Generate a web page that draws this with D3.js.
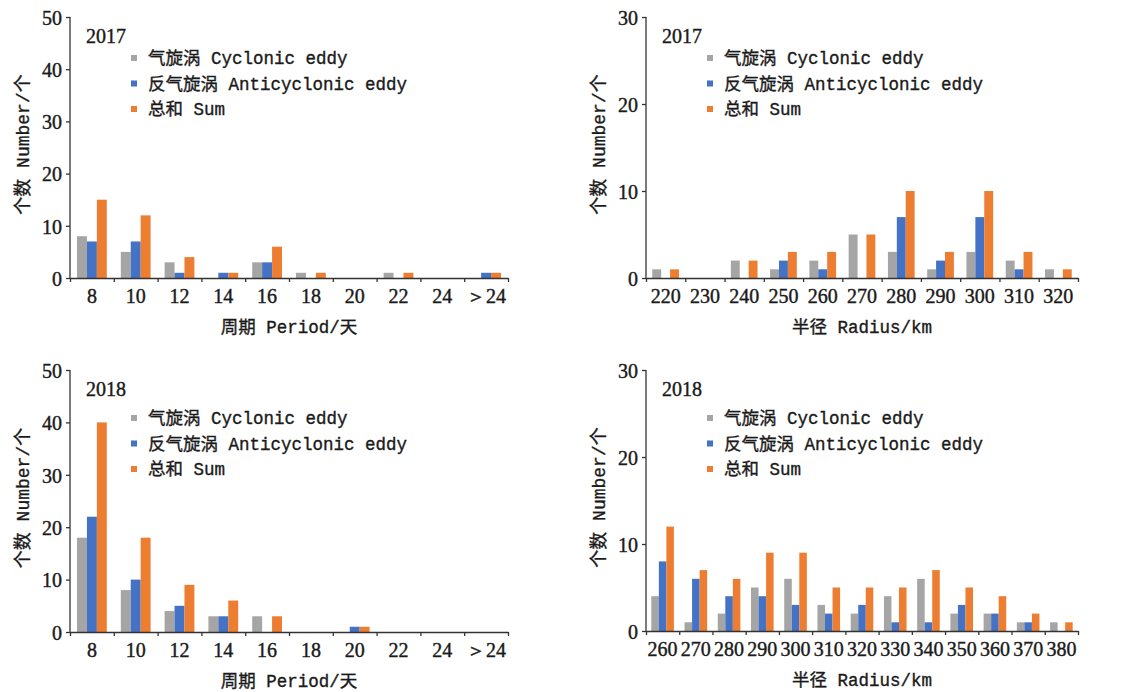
<!DOCTYPE html>
<html>
<head>
<meta charset="utf-8">
<script src="https://cdn.jsdelivr.net/npm/d3@7"></script>
<style>
  body { margin: 0; background: #fff; }
  .mono { font-family: "Liberation Mono", "Noto Sans CJK SC", monospace; fill: #1a1a1a; stroke: #1a1a1a; stroke-width: 0.35; }
  .num { font-family: "Liberation Serif", "Times New Roman", serif; fill: #1a1a1a; stroke: #1a1a1a; stroke-width: 0.4; }
  .axis path, .axis line { stroke: #333; stroke-width: 1.3; }
</style>
</head>
<body>
<svg id="chart" width="1126" height="692"></svg>
<script>
// ---- data ----
var periodCats = ['8', '10', '12', '14', '16', '18', '20', '22', '24', '＞24'];
var radius2017 = ['220', '230', '240', '250', '260', '270', '280', '290', '300', '310', '320'];
var radius2018 = ['260', '270', '280', '290', '300', '310', '320', '330', '340', '350', '360', '370', '380'];

var period2017Cyc  = [8, 5, 3, 0, 3, 1, 0, 1, 0, 0];
var period2017Anti = [7, 7, 1, 1, 3, 0, 0, 0, 0, 1];
var period2017Sum  = [15, 12, 4, 1, 6, 1, 0, 1, 0, 1];

var radius2017Cyc  = [1, 0, 2, 1, 2, 5, 3, 1, 3, 2, 1];
var radius2017Anti = [0, 0, 0, 2, 1, 0, 7, 2, 7, 1, 0];
var radius2017Sum  = [1, 0, 2, 3, 3, 5, 10, 3, 10, 3, 1];

var period2018Cyc  = [18, 8, 4, 3, 3, 0, 0, 0, 0, 0];
var period2018Anti = [22, 10, 5, 3, 0, 0, 1, 0, 0, 0];
var period2018Sum  = [40, 18, 9, 6, 3, 0, 1, 0, 0, 0];

var radius2018Cyc  = [4, 1, 2, 5, 6, 3, 2, 4, 6, 2, 2, 1, 1];
var radius2018Anti = [8, 6, 4, 4, 3, 2, 3, 1, 1, 3, 2, 1, 0];
var radius2018Sum  = [12, 7, 6, 9, 9, 5, 5, 5, 7, 5, 4, 2, 1];

var seriesNames = ['气旋涡 Cyclonic eddy', '反气旋涡 Anticyclonic eddy', '总和 Sum'];
var colours = ['#a5a5a5', '#4472c4', '#ed7d31'];

var svg = d3.select('#chart');

function panel(opt) {
    var g = svg.append('g');
    var cats = opt.cats;

    var x = d3.scaleBand().domain(cats).range([opt.x0, opt.x1]).padding(0);
    var xEdge = d3.scaleLinear().domain([0, cats.length]).range([opt.x0, opt.x1]);
    var pad = x.bandwidth() * 0.16;
    var xs = d3.scaleBand().domain([0, 1, 2]).range([pad, x.bandwidth() - pad]).padding(0);
    var y = d3.scaleLinear().domain([0, opt.yMax]).range([opt.yZero, opt.yTop]);

    // bars
    opt.series.forEach(function(vals, s) {
        g.selectAll('.bar' + s)
            .data(vals)
            .enter().append('rect')
            .attr('x', function(d, i) { return x(cats[i]) + xs(s); })
            .attr('y', function(d) { return y(d); })
            .attr('width', xs.bandwidth())
            .attr('height', function(d) { return opt.yZero - y(d); })
            .style('fill', colours[s]);
    });

    // y axis
    var yAxis = g.append('g')
        .attr('class', 'axis')
        .attr('transform', 'translate(' + opt.x0 + ',0)')
        .call(d3.axisLeft(y).tickValues(d3.range(0, opt.yMax + 1, 10)).tickSize(4).tickSizeOuter(0).tickPadding(4));
    yAxis.selectAll('text').attr('class', 'num').style('font-size', '20px').attr('dy', '0.36em');
    yAxis.select('.domain').attr('d', 'M0,' + opt.yTop + 'V' + opt.yZero);

    // x axis: tick marks on category edges
    g.append('g')
        .attr('class', 'axis')
        .attr('transform', 'translate(0,' + opt.yZero + ')')
        .call(d3.axisBottom(xEdge).tickValues(d3.range(0, cats.length + 1)).tickSize(4).tickSizeOuter(0).tickFormat(''));

    // x tick labels
    g.selectAll('.xlab')
        .data(cats)
        .enter().append('text')
        .attr('class', 'num')
        .attr('x', function(d) { return x(d) + x.bandwidth() / 2; })
        .attr('y', opt.yZero + 25)
        .style('text-anchor', 'middle')
        .style('font-size', '20px')
        .text(function(d) { return d; });

    // axis titles
    g.append('text')
        .attr('class', 'mono')
        .attr('x', (opt.x0 + opt.x1) / 2)
        .attr('y', opt.yZero + 55)
        .style('text-anchor', 'middle')
        .style('font-size', '17.5px')
        .text(opt.xTitle);

    g.append('text')
        .attr('class', 'mono')
        .attr('transform', 'translate(' + (opt.x0 - 41) + ',' + ((opt.yTop + opt.yZero) / 2 - 3) + ') rotate(-90)')
        .style('text-anchor', 'middle')
        .style('font-size', '18px')
        .text('个数 Number/个');

    // year label
    g.append('text')
        .attr('class', 'num')
        .attr('x', opt.x0 + 16)
        .attr('y', opt.yTop + 26)
        .style('font-size', '20px')
        .text(opt.year);

    // legend
    var legend = g.append('g')
        .attr('transform', 'translate(' + (opt.x0 + 64) + ',' + (opt.yTop + opt.legendTop) + ')');
    var rows = legend.selectAll('g')
        .data(seriesNames)
        .enter().append('g')
        .attr('transform', function(d, i) { return 'translate(0,' + (i * 25.5) + ')'; });
    rows.append('rect')
        .attr('x', -3).attr('y', -3)
        .attr('width', 6).attr('height', 6)
        .style('fill', function(d, i) { return colours[i]; });
    rows.append('text')
        .attr('class', 'mono')
        .attr('x', 14)
        .attr('dy', '0.36em')
        .style('font-size', '17.5px')
        .text(function(d) { return d; });
}

panel({ cats: periodCats, series: [period2017Cyc, period2017Anti, period2017Sum],
        x0: 70, x1: 508, yTop: 17, yZero: 278, yMax: 50,
        year: '2017', legendTop: 41, xTitle: '周期 Period/天' });
panel({ cats: radius2017, series: [radius2017Cyc, radius2017Anti, radius2017Sum],
        x0: 646, x1: 1078, yTop: 17, yZero: 278, yMax: 30,
        year: '2017', legendTop: 41, xTitle: '半径 Radius/km' });
panel({ cats: periodCats, series: [period2018Cyc, period2018Anti, period2018Sum],
        x0: 70, x1: 508, yTop: 370, yZero: 632, yMax: 50,
        year: '2018', legendTop: 48, xTitle: '周期 Period/天' });
panel({ cats: radius2018, series: [radius2018Cyc, radius2018Anti, radius2018Sum],
        x0: 646, x1: 1078, yTop: 370, yZero: 631, yMax: 30,
        year: '2018', legendTop: 48, xTitle: '半径 Radius/km' });
</script>
</body>
</html>
